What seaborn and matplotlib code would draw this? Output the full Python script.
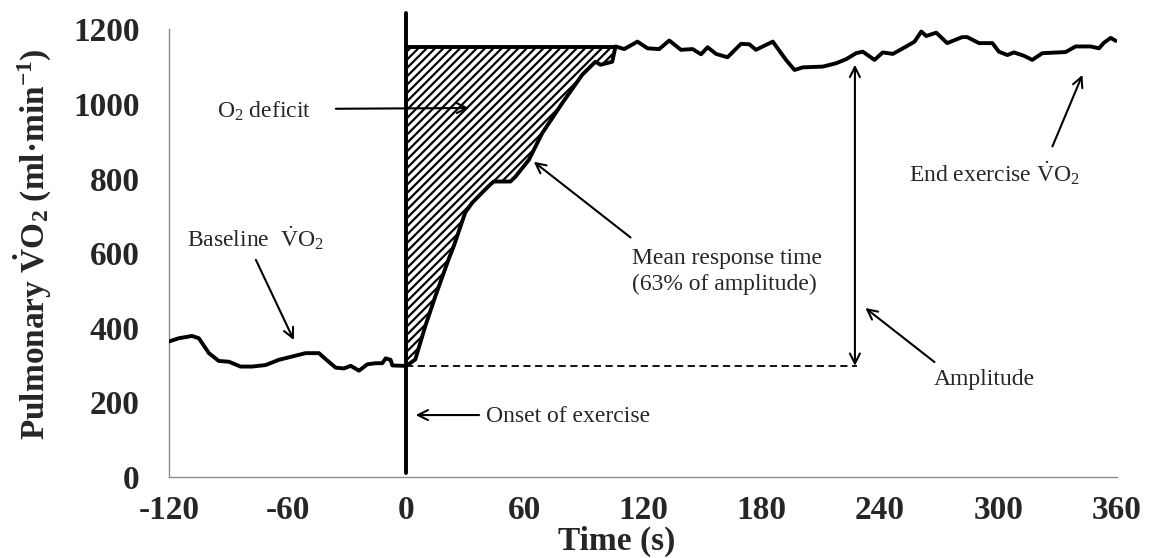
import numpy as np
import pandas as pd
import matplotlib
matplotlib.use("Agg")
import matplotlib.pyplot as plt
import seaborn as sns

# ---- data ----
time_s = [-120.1, -115.0, -108.3, -104.9, -99.8, -94.8, -89.7, -83.8, -78.1, -71.1,
          -64.4, -57.6, -50.8, -44.1, -40.7, -35.6, -31.4, -28.0, -23.8, -19.6,
          -15.4, -12.0, -10.3, -7.8, -6.9, -1.0,
          0.7, 4.7, 9.8, 14.9, 21.6, 24.2, 30.0, 33.5, 38.5, 41.9,
          44.4, 52.9, 55.4, 62.2, 68.9, 79.1, 89.2, 95.9, 98.5, 104.4, 106.1,
          110.5, 117.2, 122.3, 128.2, 133.3, 139.2, 145.1, 149.4, 152.7, 157.0,
          162.8, 169.6, 173.8, 177.2, 185.7, 192.4, 196.7, 200.9, 211.0, 217.8,
          222.9, 227.9, 231.3, 237.2, 241.4, 246.5, 253.3, 257.5, 260.9, 263.4,
          268.5, 274.0, 281.6, 284.2, 290.1, 296.9, 300.2, 304.5, 307.8, 312.9,
          317.1, 322.2, 334.0, 339.0, 346.7, 350.9, 353.4, 356.8, 359.4]
vo2 = [363, 372, 378, 372, 332, 311, 309, 296, 296, 300,
       314, 323, 332, 332, 316, 293, 291, 298, 285, 302,
       305, 305, 318, 314, 299, 298,
       300, 315, 405, 485, 584, 619, 709, 735, 762, 780,
       792, 792, 805, 850, 921, 1002, 1078, 1113, 1105, 1113, 1154,
       1147, 1167, 1149, 1147, 1170, 1145, 1147, 1133, 1152, 1134,
       1125, 1161, 1160, 1145, 1167, 1118, 1091, 1098, 1100, 1109,
       1120, 1136, 1140, 1118, 1138, 1134, 1154, 1167, 1194, 1182,
       1191, 1163, 1179, 1179, 1163, 1163, 1140, 1131, 1138, 1129,
       1118, 1136, 1139, 1154, 1154, 1149, 1164, 1177, 1169]

x_ticks = [-120, -60, 0, 60, 120, 180, 240, 300, 360]
y_ticks = [0, 200, 400, 600, 800, 1000, 1200]

baseline_vo2 = 298      # baseline level (dashed line)
deficit_top = 1152      # top of the O2-deficit area
deficit_end = 106.1     # time where response reaches steady state
amplitude_time = 227.3  # time of the amplitude double arrow
amplitude_top = 1105

# ---- style ----
sns.set_style("white")
plt.rcParams["font.family"] = ["Liberation Serif", "DejaVu Serif"]
plt.rcParams["mathtext.fontset"] = "custom"
plt.rcParams["mathtext.rm"] = "Liberation Serif"
plt.rcParams["mathtext.it"] = "Liberation Serif:italic"
plt.rcParams["mathtext.bf"] = "Liberation Serif:bold"
plt.rcParams["hatch.linewidth"] = 1.6
plt.rcParams["hatch.color"] = "black"

W, H = 1149, 558
fig = plt.figure(figsize=(W / 100, H / 100), dpi=100)
ax = fig.add_axes([169 / W, 1 - 477 / H, 948 / W, 447.7 / H])

df = pd.DataFrame({"Time (s)": time_s, "VO2": vo2})
t = np.array(time_s)
v = np.array(vo2)

# O2 deficit hatched area
mask = (t >= 0) & (t <= deficit_end)
ax.fill_between(t[mask], v[mask], deficit_top, facecolor="white",
                edgecolor="black", hatch="////", linewidth=0, zorder=2)
ax.hlines(deficit_top, 0, deficit_end, color="black", lw=2.8, zorder=3)

# main response curve
sns.lineplot(data=df, x="Time (s)", y="VO2", ax=ax, color="black",
             lw=2.8, zorder=4, legend=False)

# onset of exercise line
ax.axvline(0, ymin=0.009, ymax=1.037, color="black", lw=2.8,
           clip_on=False, zorder=5)

# baseline dashed line
ax.hlines(baseline_vo2, 0, amplitude_time + 1, color="black", lw=1.3,
          linestyles=(0, (4, 2.5)), zorder=3)

ap = dict(arrowstyle="->", color="black", lw=1.5, mutation_scale=18,
          shrinkA=0, shrinkB=0)
ap2 = dict(arrowstyle="<->", color="black", lw=1.5, mutation_scale=18,
           shrinkA=0, shrinkB=0)

# amplitude double arrow
ax.annotate("", xy=(amplitude_time, amplitude_top),
            xytext=(amplitude_time, baseline_vo2), arrowprops=ap2)

fs = 17
ax.annotate("", xy=(31.9, 989), xytext=(-35.5, 987), arrowprops=ap)
ax.text(-72, 979, "O$_2$ deficit", fontsize=fs, ha="center", va="center")

ax.annotate("", xy=(-56.8, 367), xytext=(-76, 582), arrowprops=ap)
ax.text(-76.2, 641, r"Baseline  $\dot{\mathrm{V}}$O$_2$", fontsize=fs,
        ha="center", va="center")

ax.annotate("", xy=(4.9, 166), xytext=(37, 166), arrowprops=ap)
ax.text(40.5, 162, "Onset of exercise", fontsize=fs, ha="left", va="center")

ax.annotate("", xy=(64.7, 845), xytext=(113.7, 642), arrowprops=ap)
ax.text(114.5, 551, "Mean response time\n(63% of amplitude)", fontsize=fs,
        ha="left", va="center", linespacing=1.25)

ax.annotate("", xy=(342.5, 1078), xytext=(327.3, 886), arrowprops=ap)
ax.text(298, 815, r"End exercise $\dot{\mathrm{V}}$O$_2$", fontsize=fs,
        ha="center", va="center")

ax.annotate("", xy=(232.6, 453), xytext=(267.6, 308), arrowprops=ap)
ax.text(293, 260, "Amplitude", fontsize=fs, ha="center", va="center")

# axes
ax.set_xlim(-120, 360)
ax.set_ylim(0, 1200)
ax.set_xticks(x_ticks)
ax.set_yticks(y_ticks)
ax.set_xticklabels([str(x) for x in x_ticks])
ax.set_yticklabels([str(y) for y in y_ticks])
ax.tick_params(axis="both", length=0, labelsize=24)
ax.tick_params(axis="x", pad=13)
ax.tick_params(axis="y", pad=21)
for lab in ax.get_xticklabels() + ax.get_yticklabels():
    lab.set_fontweight("bold")

for s in ["top", "right"]:
    ax.spines[s].set_visible(False)
for s in ["left", "bottom"]:
    ax.spines[s].set_color("#8c8c8c")
    ax.spines[s].set_linewidth(1.0)

ax.set_xlabel("Time (s)", fontsize=24, fontweight="bold")
ax.xaxis.set_label_coords(0.4726, -0.108)
ax.set_ylabel(r"Pulmonary $\mathbf{\dot{V}O_{2}}$ (ml·min$^{\mathbf{-1}}$)",
              fontsize=24, fontweight="bold")
ax.yaxis.set_label_coords(-0.122, 0.52)

fig.savefig("out.png", dpi=100, facecolor="white")
